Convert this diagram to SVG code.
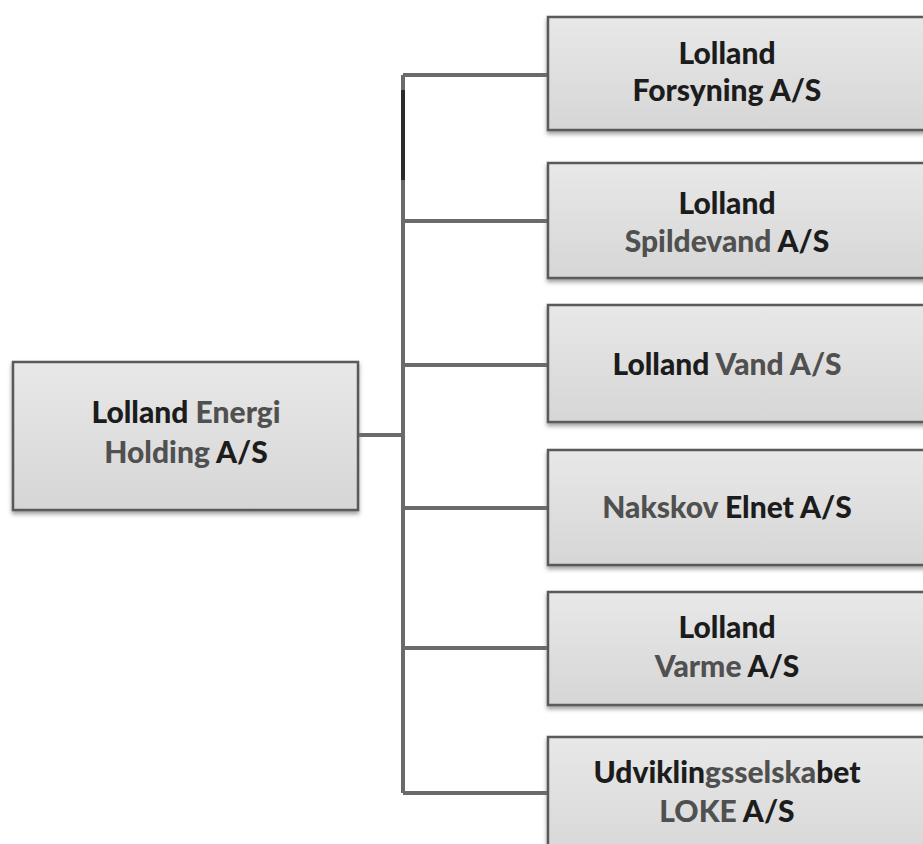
<svg xmlns="http://www.w3.org/2000/svg" width="923" height="844" viewBox="0 0 923 844">
<defs>
<linearGradient id="g" x1="0" y1="0" x2="0" y2="1">
<stop offset="0" stop-color="#e8e8e8"/>
<stop offset="1" stop-color="#d6d6d6"/>
</linearGradient>
<filter id="sh" x="-5%" y="-10%" width="110%" height="130%">
<feDropShadow dx="0" dy="3" stdDeviation="2" flood-color="#777" flood-opacity="0.7"/>
</filter>
<style>
.box{fill:url(#g);stroke:#5a5a5a;stroke-width:2.5;filter:url(#sh)}
.t{font-family:Lato,"Liberation Sans",sans-serif;font-weight:900;font-size:30px;fill:#1c1c1c;text-anchor:middle}
.gr{fill:#505050}
.c{stroke:#6a6a6a;stroke-width:4;fill:none}
.cd{stroke:#2a2a2a;stroke-width:4;fill:none}
</style>
</defs>
<rect width="923" height="844" fill="#fff"/>
<g id="connectors">
<path class="c" d="M358 435 H403"/>
<path class="c" d="M403 75 V793"/>
<path class="cd" d="M403 90 V180"/>
<path class="c" d="M403 75 H548"/>
<path class="c" d="M403 221 H548"/>
<path class="c" d="M403 365 H548"/>
<path class="c" d="M403 508 H548"/>
<path class="c" d="M403 648 H548"/>
<path class="c" d="M403 793 H548"/>
</g>
<g id="holding">
<rect class="box" x="13" y="362" width="345" height="148"/>
<text class="t" x="186" y="423">Lolland <tspan class="gr">Energi</tspan></text>
<text class="t" x="186" y="463"><tspan class="gr">Holding</tspan> A/S</text>
</g>
<g id="forsyning">
<rect class="box" x="548" y="17" width="385" height="113"/>
<text class="t" x="727" y="64">Lolland</text>
<text class="t" x="727" y="101">Forsyning A/S</text>
</g>
<g id="spildevand">
<rect class="box" x="548" y="163" width="385" height="115"/>
<text class="t" x="727" y="214">Lolland</text>
<text class="t" x="727" y="252"><tspan class="gr">Spildevand</tspan> A/S</text>
</g>
<g id="vand">
<rect class="box" x="548" y="305" width="385" height="117"/>
<text class="t" x="727" y="375">Lolland <tspan class="gr">Vand A/S</tspan></text>
</g>
<g id="elnet">
<rect class="box" x="548" y="450" width="385" height="115"/>
<text class="t" x="727" y="518"><tspan class="gr">Nakskov</tspan> Elnet A/S</text>
</g>
<g id="varme">
<rect class="box" x="548" y="592" width="385" height="113"/>
<text class="t" x="727" y="638">Lolland</text>
<text class="t" x="727" y="677"><tspan class="gr">Varme</tspan> A/S</text>
</g>
<g id="loke">
<rect class="box" x="548" y="737" width="385" height="130"/>
<text class="t" x="727" y="783">Udviklin<tspan class="gr">gsselska</tspan>bet</text>
<text class="t" x="727" y="822"><tspan class="gr">LOKE</tspan> A/S</text>
</g>
</svg>
